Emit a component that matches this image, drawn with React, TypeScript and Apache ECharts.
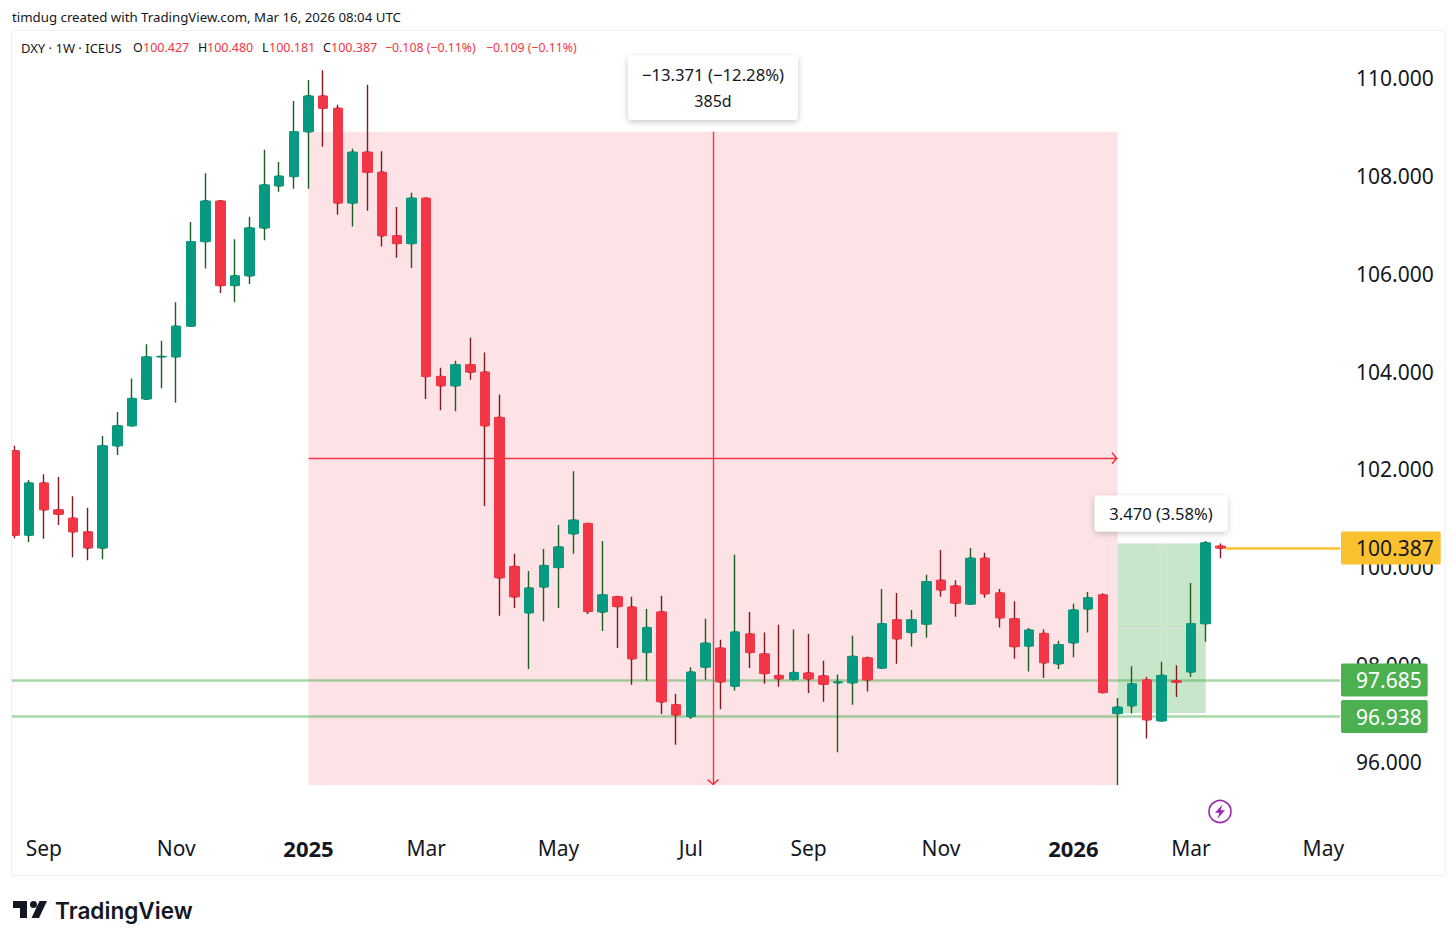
import React, { useEffect, useRef } from "react";
import * as echarts from "echarts";

const opens = [
  102.38,100.65,101.72,101.17,101.00,100.72,100.39,102.48,102.89,103.44,
  104.30,104.30,104.93,106.66,107.49,105.76,105.96,106.94,107.80,107.99,
  108.91,109.64,109.39,107.45,108.49,108.08,106.78,106.62,107.55,103.90,
  103.71,104.14,103.99,103.06,100.01,99.06,99.59,99.99,100.68,100.89,
  99.08,99.39,99.18,98.25,99.08,97.18,96.94,97.95,98.34,97.56,
  98.63,98.22,97.78,97.70,97.83,97.77,97.63,97.63,98.14,97.93,
  98.92,98.66,98.83,99.73,99.61,99.24,100.18,99.47,98.94,98.38,
  98.64,98.02,98.45,99.14,99.43,97.00,97.16,97.69,96.85,97.67,
  97.85,98.84,100.427,
];
const closes = [
  100.65,101.72,101.17,101.08,100.72,100.39,102.48,102.89,103.45,104.30,
  104.31,104.93,106.66,107.49,105.76,105.96,106.94,107.82,108.00,108.91,
  109.64,109.39,107.45,108.49,108.08,106.78,106.62,107.55,103.90,103.71,
  104.14,103.99,102.89,99.78,99.39,99.57,100.03,100.41,100.96,99.09,
  99.43,99.19,98.12,98.76,97.24,96.97,97.85,98.44,97.65,98.67,
  98.25,97.82,97.71,97.84,97.71,97.60,97.65,98.17,97.69,98.84,
  98.53,98.92,99.70,99.53,99.26,100.18,99.45,98.96,98.37,98.71,
  98.04,98.41,99.12,99.37,97.43,97.13,97.61,96.87,97.78,97.64,
  98.84,100.495,100.387,
];
const lows = [
  100.59,100.51,100.58,100.86,100.20,100.14,100.16,102.29,102.88,103.42,
  103.66,103.36,104.92,106.11,105.61,105.42,105.79,106.69,107.68,107.74,
  107.74,108.60,107.21,106.97,107.29,106.56,106.33,106.12,103.44,103.21,
  103.19,103.83,101.25,99.00,99.16,97.91,98.89,99.16,100.27,99.04,
  98.69,98.34,97.59,97.67,96.99,96.36,96.89,97.69,97.09,97.47,
  97.93,97.61,97.55,97.67,97.42,97.24,96.21,97.18,97.45,97.93,
  98.02,98.37,98.55,99.39,98.98,99.23,99.37,98.76,98.12,97.86,
  97.73,97.91,98.15,98.66,97.41,95.538,97.00,96.49,96.85,97.34,
  97.75,98.47,100.181,
];
const highs = [
  102.48,101.78,101.90,101.84,101.45,101.21,102.68,103.17,103.86,104.56,
  104.63,105.42,107.06,108.06,107.50,106.71,107.17,108.54,108.29,109.54,
  109.97,110.17,109.46,108.56,109.87,108.51,107.37,107.66,107.55,104.08,
  104.22,104.69,104.39,103.53,100.27,99.92,100.37,100.86,101.96,100.89,
  100.53,99.41,99.39,99.14,99.41,97.40,97.95,98.94,98.51,100.25,
  99.08,98.66,98.82,98.72,98.63,98.08,97.80,98.59,98.17,99.55,
  99.47,99.12,99.84,100.35,99.73,100.39,100.29,99.55,99.30,98.75,
  98.72,98.49,99.25,99.49,99.46,97.32,97.97,97.75,98.06,97.99,
  99.67,100.53,100.48,
];

const priceTicks = [96, 98, 100, 102, 104, 106, 108, 110];
const timeTickBars = [2, 11, 20, 28, 37, 46, 54, 63, 72, 80, 89];
const timeTickLabels = ["Sep", "Nov", "2025", "Mar", "May", "Jul", "Sep", "Nov", "2026", "Mar", "May"];

const lastPrice = 100.387;
const levelPrices = [97.685, 96.938];
const dropRange = { fromBar: 20, toBar: 75, high: 108.909, low: 95.538 };
const riseRange = { fromBar: 75, toBar: 81, high: 100.48, low: 97.01 };

const UI_FONT = "'Noto Sans', sans-serif";
const GREEN = "#089981";
const RED = "#f23645";
const GREEN_WICK = "#1b5e20";
const RED_WICK = "#801922";
const INK = "#131722";
const CROSS = "#d8e2d8";

const CHEVRON =
  "path://M6 0L6.01 0L6 0.01ZM6 6L12 11.2L11 12.4L6 8.1L1 12.4L0 11.2Z";

echarts.graphic.registerShape(
  "tvlogo",
  echarts.graphic.extendPath(
    "M0 0H14V17H7V7H0ZM17 3.5a3.5 3.5 0 1 1 7 0a3.5 3.5 0 1 1 -7 0ZM26 17H18.5L26.5 0H34Z",
    {},
  ),
);

function txt(text: string, x: number, y: number, fontSize: number, fill: string, extra: any = {}) {
  return {
    type: "text",
    x,
    y,
    silent: true,
    z: 20,
    style: { text, fontSize, fill, fontFamily: UI_FONT, textVerticalAlign: "middle", ...extra },
  };
}

function App() {
  const ref = useRef<HTMLDivElement>(null);
  useEffect(() => {
    const chart = echarts.init(ref.current!, undefined, { renderer: "svg" });
    const barIndex = opens.map((_, i) => i);
    const wickData = barIndex.map((i) => [i, opens[i], closes[i], lows[i], highs[i]]);
    const bodyData = barIndex.map((i) => [
      i,
      opens[i],
      closes[i],
      Math.min(opens[i], closes[i]),
      Math.max(opens[i], closes[i]),
    ]);
    const dropMid = (dropRange.high + dropRange.low) / 2;
    const riseMid = (riseRange.high + riseRange.low) / 2;
    const dropBar = (dropRange.fromBar + dropRange.toBar) / 2;
    const riseBar = (riseRange.fromBar + riseRange.toBar) / 2;
    const xMin = -0.16;
    const xMax = 90.13;
    const solid = (color: string, width: number) => ({ color, width, type: "solid" });
    const arrowEnd = (coord: number[], color: string) => ({ coord, symbol: CHEVRON, symbolSize: 12, lineStyle: { color } });
    const levelLabel = (value: number, bg: string, fg: string, right: number) => ({
      show: true,
      position: "end",
      distance: 1,
      formatter: value.toFixed(3),
      backgroundColor: bg,
      color: fg,
      fontFamily: UI_FONT,
      fontSize: 21,
      lineHeight: 23,
      padding: [5, right, 5, 15],
      borderRadius: 2,
    });
    const option: any = {
      animation: false,
      backgroundColor: "#ffffff",
      grid: { left: 12, top: 31, width: 1328, height: 800 },
      xAxis: {
        type: "value",
        min: xMin,
        max: xMax,
        splitLine: { show: false },
        axisLine: { show: false },
        axisTick: { show: false },
        axisLabel: {
          customValues: timeTickBars,
          margin: 6,
          color: INK,
          fontFamily: UI_FONT,
          fontSize: 21,
          formatter: (v: number) => {
            const label = timeTickLabels[timeTickBars.indexOf(v)] ?? "";
            return /^\d/.test(label) ? `{year|${label}}` : label;
          },
          rich: { year: { fontWeight: 700, fontSize: 22, color: INK, fontFamily: UI_FONT, padding: [0, 0, 3, 0] } },
        },
      },
      yAxis: {
        type: "value",
        position: "right",
        min: 94.596,
        max: 110.971,
        splitLine: { show: false },
        axisLine: { show: false },
        axisTick: { show: false },
        axisLabel: {
          customValues: priceTicks,
          margin: 16,
          align: "left",
          color: INK,
          fontFamily: UI_FONT,
          fontSize: 21,
          formatter: (v: number) => v.toFixed(3),
        },
      },
      series: [
        {
          type: "candlestick",
          name: "DXY wicks",
          z: 3,
          barWidth: 4,
          data: wickData,
          itemStyle: {
            color: GREEN_WICK,
            color0: RED_WICK,
            borderColor: GREEN_WICK,
            borderColor0: RED_WICK,
            borderWidth: 1.4,
          },
          markArea: {
            silent: true,
            z: 1,
            data: [
              [
                { coord: [dropRange.fromBar, dropRange.high], itemStyle: { color: "rgba(242,54,69,0.14)" } },
                { coord: [dropRange.toBar, dropRange.low] },
              ],
              [
                { coord: [riseRange.fromBar, riseRange.high], itemStyle: { color: "#c8e6c9" } },
                { coord: [riseRange.toBar, riseRange.low] },
              ],
            ],
          },
          markLine: {
            silent: true,
            z: 2,
            symbol: "none",
            label: { show: false },
            emphasis: { disabled: true },
            data: [
              [
                { coord: [dropBar, dropRange.high], lineStyle: solid(RED, 1.4) },
                arrowEnd([dropBar, dropRange.low], RED),
              ],
              [
                { coord: [dropRange.fromBar, dropMid], lineStyle: solid(RED, 1.4) },
                arrowEnd([dropRange.toBar, dropMid], RED),
              ],
              [
                { coord: [riseBar, riseRange.low], lineStyle: solid(CROSS, 1.4) },
                arrowEnd([riseBar, riseRange.high], CROSS),
              ],
              [
                { coord: [riseRange.fromBar, riseMid], lineStyle: solid(CROSS, 1.4) },
                { coord: [riseRange.toBar, riseMid] },
              ],
              ...levelPrices.map((p) => [
                {
                  coord: [xMin, p],
                  lineStyle: solid("rgba(76,175,80,0.5)", 2.5),
                  label: levelLabel(p, "#4caf50", "#ffffff", 6),
                },
                { coord: [xMax, p] },
              ]),
              [
                {
                  coord: [82.33, lastPrice],
                  lineStyle: solid("#fbc02d", 2.6),
                  label: levelLabel(lastPrice, "#fbc02d", INK, 7),
                },
                { coord: [xMax, lastPrice] },
              ],
            ],
          },
        },
        {
          type: "candlestick",
          name: "DXY bodies",
          z: 4,
          barWidth: 10,
          data: bodyData,
          itemStyle: { color: GREEN, color0: RED, borderColor: GREEN, borderColor0: RED, borderWidth: 1 },
        },
      ],
      graphic: [
        { type: "rect", silent: true, z: 16, shape: { x: 0, y: 31, width: 11.5, height: 844 }, style: { fill: "#ffffff" } },
        { type: "rect", silent: true, z: 17, shape: { x: 11.5, y: 30.5, width: 1433.5, height: 845 }, style: { fill: "none", stroke: "#eef0f3", lineWidth: 1 } },
        txt("timdug created with TradingView.com, Mar 16, 2026 08:04 UTC", 12, 17, 13.25, INK),
        txt("DXY · 1W · ICEUS", 21, 47.5, 13, INK),
        txt("O", 133, 47.5, 12.5, INK),
        txt("100.427", 143, 47.5, 12.5, RED),
        txt("H", 198, 47.5, 12.5, INK),
        txt("100.480", 207, 47.5, 12.5, RED),
        txt("L", 262, 47.5, 12.5, INK),
        txt("100.181", 269, 47.5, 12.5, RED),
        txt("C", 323, 47.5, 12.5, INK),
        txt("100.387", 331, 47.5, 12.5, RED),
        txt("−0.108 (−0.11%)", 385, 47.5, 12.3, RED),
        txt("−0.109 (−0.11%)", 486, 47.5, 12.3, RED),
        {
          type: "rect", silent: true, z: 18,
          shape: { x: 628, y: 55.5, width: 170, height: 64.5, r: 4 },
          style: { fill: "#ffffff", shadowBlur: 6, shadowOffsetY: 2, shadowColor: "rgba(0,0,0,0.22)" },
        },
        txt("−13.371 (−12.28%)", 713, 74.5, 16.7, INK, { textAlign: "center" }),
        txt("385d", 713, 101, 16, INK, { textAlign: "center" }),
        {
          type: "rect", silent: true, z: 18,
          shape: { x: 1094.5, y: 495.5, width: 133, height: 36, r: 4 },
          style: { fill: "#ffffff", shadowBlur: 6, shadowOffsetY: 2, shadowColor: "rgba(0,0,0,0.22)" },
        },
        txt("3.470 (3.58%)", 1161, 513.5, 16.6, INK, { textAlign: "center" }),
        { type: "circle", silent: true, z: 18, shape: { cx: 1220, cy: 811.5, r: 11 }, style: { fill: "#ffffff", stroke: "#9c27b0", lineWidth: 1.6 } },
        {
          type: "polygon", silent: true, z: 19,
          shape: { points: [[1222.5, 804.5], [1215, 812.8], [1219.3, 812.8], [1217.7, 818.5], [1225, 810.2], [1220.7, 810.2]] },
          style: { fill: "#9c27b0" },
        },
        { type: "tvlogo", silent: true, z: 20, x: 13, y: 901, style: { fill: "#131722" } },
        txt("TradingView", 55, 910, 22.6, "#131722", { fontFamily: "Inter, sans-serif", fontWeight: 600 }),
      ],
    };
    chart.setOption(option);
    return () => chart.dispose();
  }, []);
  return (
    <div
      ref={ref}
      style={{ position: "fixed", left: 0, top: 0, width: 1456, height: 944, background: "#ffffff" }}
    />
  );
}

export default App;
